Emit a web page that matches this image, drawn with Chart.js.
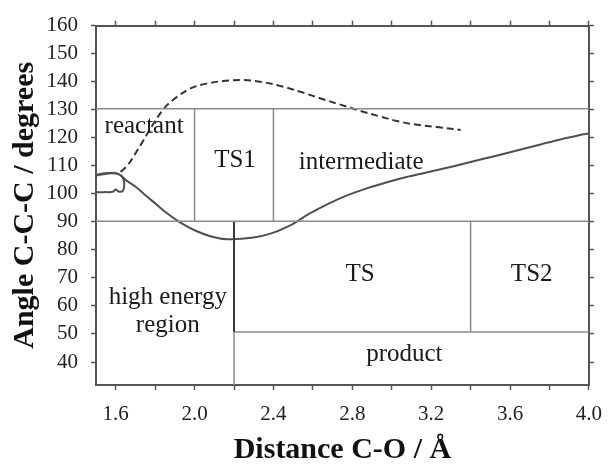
<!DOCTYPE html>
<html>
<head>
<meta charset="utf-8">
<script src="https://cdn.jsdelivr.net/npm/chart.js@4/dist/chart.umd.min.js"></script>
<style>
    body { margin: 0; background: #fff; }
    #wrap { width: 614px; height: 465px; position: relative; }
</style>
</head>
<body>
<div id="wrap"><canvas id="myChart"></canvas></div>
<script>
// axis ticks
const xTicks = [1.6, 1.8, 2.0, 2.2, 2.4, 2.6, 2.8, 3.0, 3.2, 3.4, 3.6, 3.8, 4.0];
const xLabels = [1.6, 2.0, 2.4, 2.8, 3.2, 3.6, 4.0];
const yTicks = [40, 50, 60, 70, 80, 90, 100, 110, 120, 130, 140, 150, 160];

// solid curve, little loop at the start
const loopX = [1.50, 1.55, 1.585, 1.600, 1.615, 1.636, 1.643, 1.640, 1.628, 1.605, 1.575, 1.54, 1.50];
const loopY = [100.6, 100.6, 100.7, 101.5, 100.8, 101.0, 103.0, 105.0, 106.5, 107.2, 107.3, 107.0, 106.5];

// solid curve, main part
const solidX = [1.50, 1.56, 1.61, 1.653, 1.703, 1.752, 1.802, 1.852, 1.918, 2.00, 2.084, 2.167, 2.29, 2.39, 2.49, 2.58, 2.68, 2.78, 2.88, 2.98, 3.07, 3.17, 3.27, 3.37, 3.46, 3.56, 3.66, 3.76, 3.85, 3.95, 4.0];
const solidY = [106.8, 107.4, 107.2, 104.8, 102.4, 99.4, 96.5, 93.5, 90.2, 87.0, 84.8, 83.8, 84.3, 85.9, 88.9, 92.8, 96.5, 99.6, 102.1, 104.2, 105.9, 107.5, 109.1, 110.8, 112.4, 114.1, 115.9, 117.7, 119.3, 120.9, 121.5];

// dashed curve
const dashX = [1.625, 1.66, 1.694, 1.728, 1.784, 1.842, 1.90, 1.98, 2.06, 2.155, 2.25, 2.35, 2.45, 2.545, 2.64, 2.74, 2.84, 2.94, 3.03, 3.13, 3.23, 3.35];
const dashY = [107.8, 110.1, 113.7, 117.6, 124.2, 130.2, 134.0, 137.6, 139.3, 140.3, 140.6, 139.8, 138.2, 136.2, 134.0, 131.8, 129.6, 127.6, 125.9, 124.6, 123.8, 122.8];

// region boundaries (start / end of each segment)
const lineX0 = [1.5, 1.5, 2.0, 2.4, 2.2, 2.2, 2.2, 3.4];
const lineX1 = [4.0, 4.0, 2.0, 2.4, 2.2, 2.2, 4.0, 3.4];
const lineY0 = [130.3, 90.2, 90.2, 90.2, 90.2, 50.7, 50.7, 50.7];
const lineY1 = [130.3, 90.2, 130.3, 130.3, 50.7, 31.8, 50.7, 90.2];

// region names
const regionNames = ['reactant', 'TS1', 'intermediate', 'TS', 'TS2', 'high energy', 'region', 'product'];
const regionX = [1.744, 2.205, 2.845, 2.84, 3.71, 1.864, 1.864, 3.064];
const regionY = [124.2, 112.0, 111.3, 71.3, 71.3, 63.0, 53.0, 42.6];


function toPoints(xs, ys) {
    let pts = [];
    for (let i = 0; i < xs.length; i++) {
        pts.push({ x: xs[i], y: ys[i] });
    }
    return pts;
}

let datasets = [];

for (let i = 0; i < lineX0.length; i++) {
    let dark = i === 4;
    datasets.push({
        data: [{ x: lineX0[i], y: lineY0[i] }, { x: lineX1[i], y: lineY1[i] }],
        showLine: true,
        borderColor: dark ? '#3a3a3a' : '#8a8a8a',
        borderWidth: dark ? 2 : 1.5,
        pointRadius: 0
    });
}

datasets.push({
    data: toPoints(loopX, loopY),
    showLine: true, borderColor: '#505050', borderWidth: 2, pointRadius: 0, tension: 0.35
});
datasets.push({
    data: toPoints(solidX, solidY),
    showLine: true, borderColor: '#505050', borderWidth: 2, pointRadius: 0, tension: 0.35
});
datasets.push({
    data: toPoints(dashX, dashY),
    showLine: true, borderColor: '#333', borderWidth: 2, borderDash: [7, 4], pointRadius: 0, tension: 0.35
});

const regionLabels = {
    id: 'regionLabels',
    afterDatasetsDraw(chart) {
        let ctx = chart.ctx;
        let xs = chart.scales.x;
        let ys = chart.scales.y;
        ctx.save();
        ctx.font = '25px "Liberation Serif"';
        ctx.fillStyle = '#1a1a1a';
        ctx.textAlign = 'center';
        ctx.textBaseline = 'middle';
        for (let i = 0; i < regionNames.length; i++) {
            ctx.fillText(regionNames[i], xs.getPixelForValue(regionX[i]), ys.getPixelForValue(regionY[i]));
        }
        ctx.restore();
    }
};

const gridOpts = { drawOnChartArea: false, drawTicks: true, tickLength: 5, tickColor: '#555', tickWidth: 1.5 };
const borderOpts = { display: true, color: '#555', width: 2 };

let myChart = new Chart(document.getElementById('myChart'), {
    type: 'scatter',
    data: { datasets: datasets },
    plugins: [regionLabels],
    options: {
        responsive: true,
        maintainAspectRatio: false,
        animation: false,
        layout: { padding: 0 },
        plugins: { legend: { display: false }, tooltip: { enabled: false } },
        scales: {
            x: {
                type: 'linear', position: 'bottom', min: 1.5, max: 4.0,
                grid: gridOpts, border: borderOpts,
                afterBuildTicks: s => { s.ticks = xTicks.map(v => ({ value: v })); },
                afterFit: s => { s.height = 80; },
                ticks: {
                    padding: 12, color: '#222', maxRotation: 0, autoSkip: false,
                    font: { family: '"Liberation Serif"', size: 21 },
                    callback: v => xLabels.some(l => Math.abs(l - v) < 1e-6) ? v.toFixed(1) : ''
                },
                title: {
                    display: true, text: 'Distance C-O / Å', color: '#111',
                    font: { family: '"Liberation Serif"', size: 30, weight: 'bold', lineHeight: 1.0 },
                    padding: { top: 0, bottom: 0 }
                }
            },
            x2: {
                type: 'linear', position: 'top', min: 1.5, max: 4.0,
                grid: gridOpts, border: borderOpts,
                afterBuildTicks: s => { s.ticks = xTicks.map(v => ({ value: v })); },
                afterFit: s => { s.height = 25; },
                ticks: { display: false }
            },
            y: {
                type: 'linear', position: 'left', min: 31.8, max: 160,
                grid: gridOpts, border: borderOpts,
                afterBuildTicks: s => { s.ticks = yTicks.map(v => ({ value: v })); },
                afterFit: s => { s.width = 96; },
                ticks: {
                    padding: 13, color: '#222', autoSkip: false,
                    font: { family: '"Liberation Serif"', size: 21 }
                },
                title: {
                    display: true, text: 'Angle C-C-C / degrees', color: '#111',
                    font: { family: '"Liberation Serif"', size: 30, weight: 'bold', lineHeight: 1.0 },
                    padding: { top: 10, bottom: 0 }
                }
            },
            y2: {
                type: 'linear', position: 'right', min: 31.8, max: 160,
                grid: gridOpts, border: borderOpts,
                afterBuildTicks: s => { s.ticks = yTicks.map(v => ({ value: v })); },
                afterFit: s => { s.width = 16; },
                ticks: { display: false }
            }
        }
    }
});
</script>
</body>
</html>
